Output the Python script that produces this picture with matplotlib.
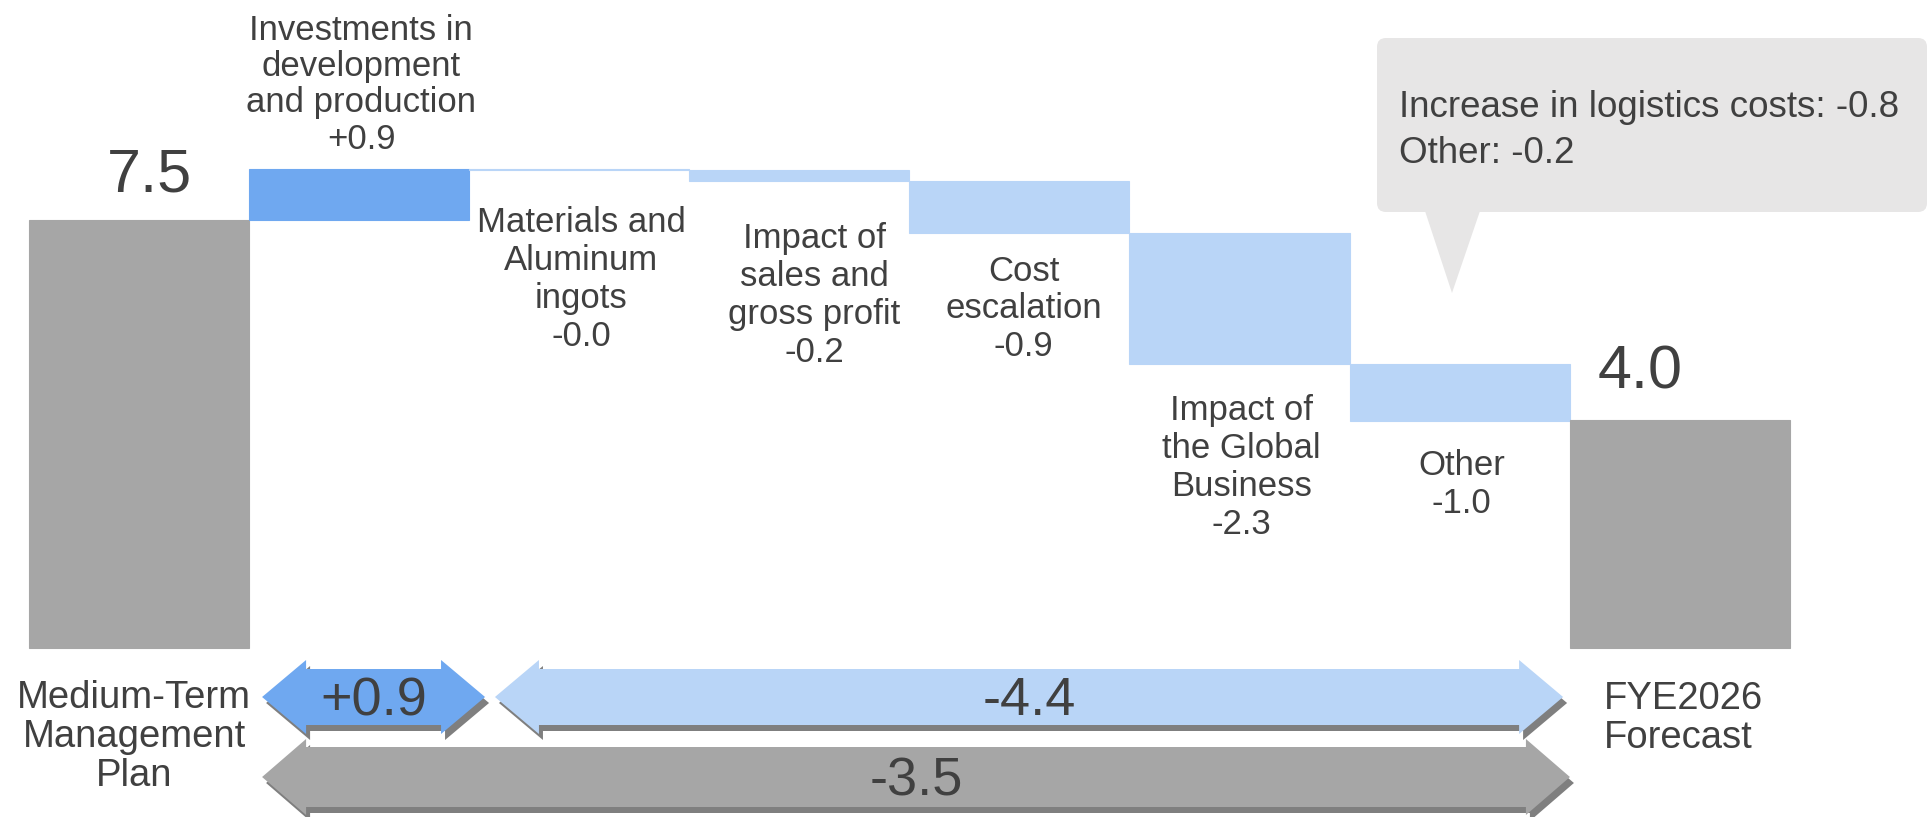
import matplotlib
matplotlib.use("Agg")
import matplotlib.pyplot as plt
from matplotlib.patches import Polygon, FancyBboxPatch
from matplotlib.transforms import Affine2D
import numpy as np

plt.rcParams['font.family'] = ['Liberation Sans', 'DejaVu Sans']

# ---------------- data ----------------
start_label = "Medium-Term\nManagement\nPlan"
start_value = 7.5
end_label = "FYE2026\nForecast"
end_value = 4.0
step_labels = ["Investments in\ndevelopment\nand production",
               "Materials and\nAluminum\ningots",
               "Impact of\nsales and\ngross profit",
               "Cost\nescalation",
               "Impact of\nthe Global\nBusiness",
               "Other"]
step_values = [0.9, -0.02, -0.2, -0.9, -2.3, -1.0]
note_labels = ["Increase in logistics costs", "Other"]
note_values = [-0.8, -0.2]

# ---------------- style / layout ----------------
W, H = 1928, 817
C_TOTAL = '#A6A6A6'
C_UP = '#6FA8F0'
C_DOWN = '#B9D5F7'
C_TEXT = '#404040'
C_SHADOW = '#7F7F7F'
C_NOTE = '#E7E6E6'

PXX = 220.1   # pixels per bar slot
PXY = 57.07   # pixels per value unit
X_LEFT_PX = 29
BASE_PX = 648


def X(px):
    return (px - X_LEFT_PX) / PXX - 0.5


def Y(py):
    return (BASE_PX - py) / PXY


fig = plt.figure(figsize=(W / 100, H / 100), dpi=100)
ax = fig.add_axes([0, 0, 1, 1])
ax.set_xlim(X(0), X(W))
ax.set_ylim(Y(H), Y(0))
ax.axis('off')
PIX = Affine2D().scale(1 / W, -1 / H).translate(0, 1) + fig.transFigure

# ---------------- waterfall bars ----------------
n = len(step_values)
xs = np.arange(n + 2)
cum = start_value + np.concatenate([[0], np.cumsum(step_values)])
step_bottoms = [min(cum[i], cum[i + 1]) for i in range(n)]
step_heights = [abs(v) for v in step_values]
step_colors = [C_UP if v > 0 else C_DOWN for v in step_values]

bottoms = [0] + step_bottoms + [0]
heights = [start_value] + step_heights + [end_value]
colors = [C_TOTAL] + step_colors + [C_TOTAL]
ax.bar(xs, heights, bottom=bottoms, width=1.0, color=colors,
       edgecolor=colors, linewidth=0.8, zorder=2)

# totals
ax.text(xs[0] + 10 / PXX, start_value + 28 / PXY, f"{start_value:.1f}",
        ha='center', va='baseline', fontsize=44, color=C_TEXT)
ax.text(xs[-1] - 40 / PXX, end_value + 31 / PXY, f"{end_value:.1f}",
        ha='center', va='baseline', fontsize=44, color=C_TEXT)

# step labels
gap_px = [13, 36, 41, 22, 30, 28]
dx_px = [2, 2, 15, 4, 2, 2]
for i, (lab, v) in enumerate(zip(step_labels, step_values)):
    txt = f"{lab}\n{v:+.1f}"
    xc = xs[i + 1] + dx_px[i] / PXX
    if v > 0:
        ax.text(xc, max(cum[i], cum[i + 1]) + gap_px[i] / PXY, txt,
                ha='center', va='bottom', fontsize=25, color=C_TEXT,
                linespacing=1.12, multialignment='center')
    else:
        ax.text(xc, min(cum[i], cum[i + 1]) - gap_px[i] / PXY, txt,
                ha='center', va='top', fontsize=25, color=C_TEXT,
                linespacing=1.19, multialignment='center')

# bottom category labels
ax.text(X(134), Y(680), start_label, ha='center', va='top',
        fontsize=27.5, color=C_TEXT, linespacing=1.1, multialignment='center')
ax.text(X(1683), Y(681), end_label, ha='center', va='top',
        fontsize=27.5, color=C_TEXT, linespacing=1.12, multialignment='left')

# ---------------- summary arrows ----------------
pos_sum = sum(v for v in step_values if v > 0)
neg_sum = sum(v for v in step_values if v < 0)
total = sum(step_values)

# (x_left, x_right, y_center_px, body_half_px, head_half_px, color, value, label_baseline_px)
arrows = [
    (xs[1] - 0.5 + 0.059, xs[1] + 0.5 + 0.072, 697, 28, 37, C_UP, pos_sum, 715),
    (xs[2] - 0.5 + 0.117, xs[n] + 0.5 - 0.030, 697, 28, 37, C_DOWN, neg_sum, 715),
    (xs[1] - 0.5 + 0.059, xs[n] + 0.5 + 0.001, 777, 30, 38, C_TOTAL, total, 795),
]
HL = 44 / PXX
SDX, SDY = 4 / PXX, -6 / PXY
for xl, xr, yc_px, bh_px, hh_px, col, val, lb in arrows:
    yc = Y(yc_px)
    bh = bh_px / PXY
    hh = hh_px / PXY
    pts = [(xl, yc), (xl + HL, yc + hh), (xl + HL, yc + bh), (xr - HL, yc + bh),
           (xr - HL, yc + hh), (xr, yc), (xr - HL, yc - hh), (xr - HL, yc - bh),
           (xl + HL, yc - bh), (xl + HL, yc - hh)]
    shadow = [(px + SDX, py + SDY) for px, py in pts]
    ax.add_patch(Polygon(shadow, closed=True, facecolor=C_SHADOW,
                         edgecolor='none', zorder=3))
    ax.add_patch(Polygon(pts, closed=True, facecolor=col, edgecolor='none',
                         zorder=4))
    ax.text((xl + xr) / 2, Y(lb), f"{val:+.1f}", ha='center', va='baseline',
            fontsize=39, color=C_TEXT, zorder=5)

# ---------------- callout ----------------
box = FancyBboxPatch((1377, 38), 1927 - 1377, 212 - 38,
                     boxstyle='round,pad=0,rounding_size=9',
                     facecolor=C_NOTE, edgecolor='none', transform=PIX, zorder=3)
fig.patches.append(box)
tri = Polygon([(1425, 211), (1480, 211), (1452, 293)], closed=True,
              facecolor=C_NOTE, edgecolor='none', transform=PIX, zorder=3)
fig.patches.append(tri)
note_text = "\n".join(f"{l}: {v:.1f}" for l, v in zip(note_labels, note_values))
fig.text(1399 / W, 1 - 90 / H, note_text, ha='left', va='top',
         fontsize=26.5, color=C_TEXT, linespacing=1.4)

fig.savefig("out.png", dpi=100)
